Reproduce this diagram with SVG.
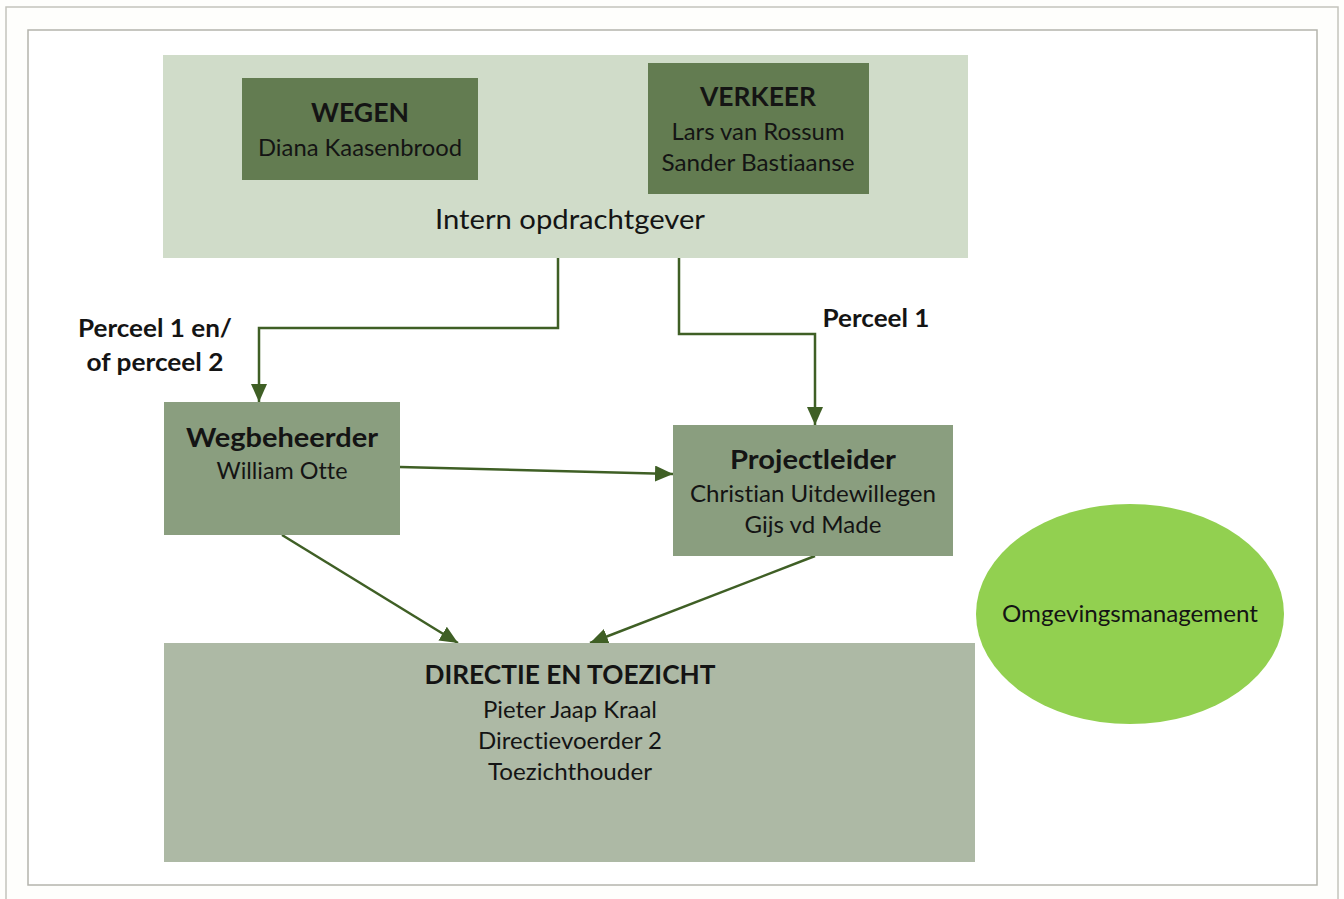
<svg xmlns="http://www.w3.org/2000/svg" width="1344" height="899" viewBox="0 0 1344 899">
<defs>
<style>
text{font-family:Lato,"Open Sans","Liberation Sans",sans-serif;fill:#141414;text-anchor:middle;font-variant-ligatures:none}
.b{font-weight:bold}
.t{font-size:27px}
.n{font-size:23.5px}
.l{font-size:24px;font-weight:bold}
.con{stroke:#3f5f25;stroke-width:2.5;fill:none;marker-end:url(#ah)}
</style>
<marker id="ah" markerUnits="userSpaceOnUse" markerWidth="20" markerHeight="18" refX="18" refY="8" orient="auto">
<path d="M0,0 L18,8 L0,16 Z" fill="#3f5f25"/>
</marker>
</defs>
<rect x="0" y="0" width="1344" height="899" fill="#fefefc"/>
<rect x="6" y="7" width="1332" height="900" fill="none" stroke="#c4c4bc" stroke-width="1.5"/>
<rect x="28" y="30" width="1289" height="855" fill="#ffffff" stroke="#b4b4ac" stroke-width="1.5"/>

<g id="intern">
<rect x="163" y="55" width="805" height="203" fill="#d0dcc9"/>
<text class="t" x="570" y="229" textLength="270" lengthAdjust="spacingAndGlyphs">Intern opdrachtgever</text>
</g>
<g id="wegen">
<rect x="242" y="78" width="236" height="102" fill="#637c51"/>
<text class="t b" x="360" y="122" textLength="98" lengthAdjust="spacingAndGlyphs">WEGEN</text>
<text class="n" x="360" y="156" textLength="204" lengthAdjust="spacingAndGlyphs">Diana Kaasenbrood</text>
</g>
<g id="verkeer">
<rect x="648" y="63" width="221" height="131" fill="#637c51"/>
<text class="t b" x="758" y="106" textLength="116" lengthAdjust="spacingAndGlyphs">VERKEER</text>
<text class="n" x="758" y="140" textLength="173" lengthAdjust="spacingAndGlyphs">Lars van Rossum</text>
<text class="n" x="758" y="171" textLength="193" lengthAdjust="spacingAndGlyphs">Sander Bastiaanse</text>
</g>

<g id="connectors">
<polyline class="con" points="558,258 558,328 259,328 259,402"/>
<polyline class="con" points="679,258 679,334 815,334 815,425"/>
<line class="con" x1="400" y1="467" x2="673" y2="474"/>
<line class="con" x1="282" y1="535" x2="458" y2="643"/>
<line class="con" x1="815" y1="556" x2="590" y2="643"/>
<text class="l" x="155" y="337" textLength="154" lengthAdjust="spacingAndGlyphs">Perceel 1 en/</text>
<text class="l" x="155" y="371" textLength="137" lengthAdjust="spacingAndGlyphs">of perceel 2</text>
<text class="l" x="876" y="327" textLength="107" lengthAdjust="spacingAndGlyphs">Perceel 1</text>
</g>

<g id="wegbeheerder">
<rect x="164" y="402" width="236" height="133" fill="#8a9e7f"/>
<text class="t b" x="282" y="447" textLength="192" lengthAdjust="spacingAndGlyphs">Wegbeheerder</text>
<text class="n" x="282" y="479" textLength="131" lengthAdjust="spacingAndGlyphs">William Otte</text>
</g>
<g id="projectleider">
<rect x="673" y="425" width="280" height="131" fill="#8a9e7f"/>
<text class="t b" x="813" y="469" textLength="166" lengthAdjust="spacingAndGlyphs">Projectleider</text>
<text class="n" x="813" y="502" textLength="246" lengthAdjust="spacingAndGlyphs">Christian Uitdewillegen</text>
<text class="n" x="813" y="533" textLength="137" lengthAdjust="spacingAndGlyphs">Gijs vd Made</text>
</g>
<g id="directie">
<rect x="164" y="643" width="811" height="219" fill="#adb9a5"/>
<text class="t b" x="570" y="684" textLength="291" lengthAdjust="spacingAndGlyphs">DIRECTIE EN TOEZICHT</text>
<text class="n" x="570" y="718" textLength="174" lengthAdjust="spacingAndGlyphs">Pieter Jaap Kraal</text>
<text class="n" x="570" y="749" textLength="184" lengthAdjust="spacingAndGlyphs">Directievoerder 2</text>
<text class="n" x="570" y="780" textLength="164" lengthAdjust="spacingAndGlyphs">Toezichthouder</text>
</g>
<g id="omgevingsmanagement">
<ellipse cx="1130" cy="614" rx="154" ry="110" fill="#92d050"/>
<text class="n" x="1130" y="622" textLength="256" lengthAdjust="spacingAndGlyphs">Omgevingsmanagement</text>
</g>
</svg>
